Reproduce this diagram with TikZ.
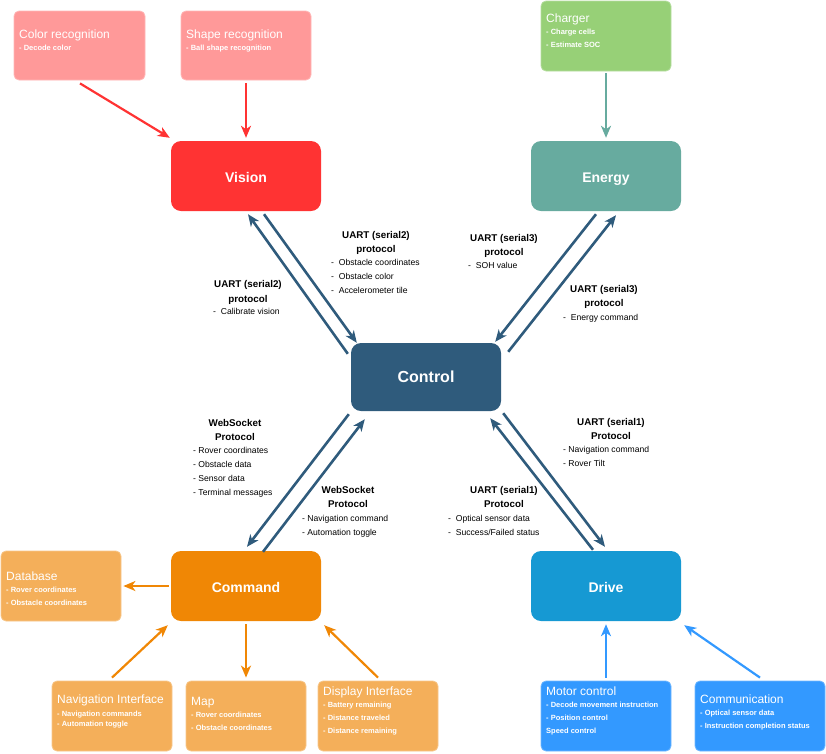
\documentclass[tikz,border=0pt]{standalone}
\usepackage{fontspec}
\setmainfont{Liberation Sans}
\usetikzlibrary{arrows.meta,calc}
\definecolor{lred}{HTML}{FF9999}
\definecolor{vred}{HTML}{FF3333}
\definecolor{lgreen}{HTML}{97D077}
\definecolor{teal}{HTML}{67AB9F}
\definecolor{ctrl}{HTML}{2F5B7C}
\definecolor{corange}{HTML}{F08705}
\definecolor{lorange}{HTML}{F4AF5A}
\definecolor{dblue}{HTML}{1699D3}
\definecolor{lblue}{HTML}{3399FF}
\begin{document}
\begin{tikzpicture}[x=1pt,y=-1pt,
  mainbox/.style={rectangle,rounded corners=10pt,minimum width=150pt,minimum height=70pt,inner sep=0pt,text=white,font=\fontsize{14}{16}\selectfont\bfseries},
  mtext/.style={anchor=mid,inner sep=0pt,yshift=-3pt,text=white,font=\fontsize{14}{16}\selectfont\bfseries},
  smallbox/.style={rectangle,rounded corners=5pt,minimum width=#1,minimum height=70pt,inner sep=0pt,line width=0.8pt},
  btitle/.style={anchor=mid west,inner sep=0pt,yshift=-3pt,text=white,font=\fontsize{12}{14}\selectfont},
  bitem/.style={anchor=mid west,inner sep=0pt,yshift=-1pt,text=white,font=\fontsize{7.5}{9}\selectfont\bfseries},
  lhead/.style={anchor=mid,inner sep=0pt,yshift=-2pt,font=\fontsize{9.8}{12}\selectfont\bfseries},
  litem/.style={anchor=mid west,inner sep=0pt,yshift=-1pt,font=\fontsize{8.6}{11}\selectfont},
  thin arrow/.style={line width=2.2pt,-{Stealth[length=12pt,width=10pt,inset=3.5pt]}},
  thick arrow/.style={line width=2.6pt,ctrl,-{Stealth[length=12pt,width=10pt,inset=3.5pt]}}
]
\useasboundingbox (0,0) rectangle (826,753);
% main boxes
\node[mainbox,fill=vred] (vision) at (246,176) {};
\node[mainbox,fill=teal] (energy) at (606,176) {};
\node[mainbox,fill=ctrl,minimum height=68pt] (control) at (426,377) {};
\node[mainbox,fill=corange] (command) at (246,586) {};
\node[mainbox,fill=dblue] (drive) at (606,586) {};
\node[mtext] (visiont) at (246,177) {Vision};
\node[mtext] (energyt) at (606,177) {Energy};
\node[mtext,font=\fontsize{16}{18}\selectfont\bfseries] (controlt) at (426,377) {Control};
\node[mtext] (commandt) at (246,587) {Command};
\node[mtext] (drivet) at (606,587) {Drive};
% small boxes
\node[smallbox=131pt,minimum height=69pt,fill=lred,draw=lred!70!white] (colorrec) at (79.5,45.5) {};
\node[smallbox=130pt,minimum height=69pt,fill=lred,draw=lred!70!white] (shaperec) at (246,45.5) {};
\node[smallbox=130pt,fill=lgreen,draw=lgreen!70!white] (charger) at (606,36) {};
\node[smallbox=120pt,fill=lorange,draw=lorange!70!white] (database) at (61,586) {};
\node[smallbox=120pt,fill=lorange,draw=lorange!70!white] (navint) at (112,716) {};
\node[smallbox=120pt,fill=lorange,draw=lorange!70!white] (map) at (246,716) {};
\node[smallbox=120pt,fill=lorange,draw=lorange!70!white] (dispint) at (378,716) {};
\node[smallbox=130pt,fill=lblue,draw=lblue!70!white] (motor) at (606,716) {};
\node[smallbox=130pt,fill=lblue,draw=lblue!70!white] (comm) at (760,716) {};
% small box texts
\node[btitle] (t1) at (19,33) {Color recognition};
\node[bitem] (t1a) at (19,47) {- Decode color};
\node[btitle] (t2) at (186,33) {Shape recognition};
\node[bitem] (t2a) at (186,47) {- Ball shape recognition};
\node[btitle] (t3) at (546,17) {Charger};
\node[bitem] (t3a) at (546,31) {- Charge cells};
\node[bitem] (t3b) at (546,44) {- Estimate SOC};
\node[btitle] (t4) at (6,575) {Database};
\node[bitem] (t4a) at (6,589) {- Rover coordinates};
\node[bitem] (t4b) at (6,602) {- Obstacle coordinates};
\node[btitle] (t5) at (57,698) {Navigation Interface};
\node[bitem] (t5a) at (57,713) {- Navigation commands};
\node[bitem] (t5b) at (57,723) {- Automation toggle};
\node[btitle] (t6) at (191,700) {Map};
\node[bitem] (t6a) at (191,714) {- Rover coordinates};
\node[bitem] (t6b) at (191,727) {- Obstacle coordinates};
\node[btitle] (t7) at (323,690) {Display Interface};
\node[bitem] (t7a) at (323,704) {- Battery remaining};
\node[bitem] (t7b) at (323,717) {- Distance traveled};
\node[bitem] (t7c) at (323,730) {- Distance remaining};
\node[btitle] (t8) at (546,690) {Motor control};
\node[bitem] (t8a) at (546,704) {- Decode movement instruction};
\node[bitem] (t8b) at (546,717) {- Position control};
\node[bitem] (t8c) at (546,730) {Speed control};
\node[btitle] (t9) at (700,698) {Communication};
\node[bitem] (t9a) at (700,712) {- Optical sensor data};
\node[bitem] (t9b) at (700,725) {- Instruction completion status};
% connector labels
\node[lhead] (a1) at (248,283) {UART (serial2)};
\node[lhead] (a2) at (248,298) {protocol};
\node[litem] (a3) at (213,311) {-\ \ Calibrate vision};
\node[lhead] (b1) at (376,234) {UART (serial2)};
\node[lhead] (b2) at (376,248) {protocol};
\node[litem] (b3) at (331,262) {-\ \ Obstacle coordinates};
\node[litem] (b4) at (331,276) {-\ \ Obstacle color};
\node[litem] (b5) at (331,290) {-\ \ Accelerometer tile};
\node[lhead] (c1) at (504,237) {UART (serial3)};
\node[lhead] (c2) at (504,251) {protocol};
\node[litem] (c3) at (468,265) {-\ \ SOH value};
\node[lhead] (d1) at (604,288) {UART (serial3)};
\node[lhead] (d2) at (604,302) {protocol};
\node[litem] (d3) at (563,317) {-\ \ Energy command};
\node[lhead] (e1) at (235,422) {WebSocket};
\node[lhead] (e2) at (235,436) {Protocol};
\node[litem] (e3) at (193,450) {- Rover coordinates};
\node[litem] (e4) at (193,464) {- Obstacle data};
\node[litem] (e5) at (193,478) {- Sensor data};
\node[litem] (e6) at (193,492) {- Terminal messages};
\node[lhead] (f1) at (348,489) {WebSocket};
\node[lhead] (f2) at (348,503) {Protocol};
\node[litem] (f3) at (302,518) {- Navigation command};
\node[litem] (f4) at (302,532) {- Automation toggle};
\node[lhead] (g1) at (611,421) {UART (serial1)};
\node[lhead] (g2) at (611,435) {Protocol};
\node[litem] (g3) at (563,449) {- Navigation command};
\node[litem] (g4) at (563,463) {- Rover Tilt};
\node[lhead] (h1) at (504,489) {UART (serial1)};
\node[lhead] (h2) at (504,503) {Protocol};
\node[litem] (h3) at (448,518) {-\ \ Optical sensor data};
\node[litem] (h4) at (448,532) {-\ \ Success/Failed status};
% thin arrows
\draw[thin arrow,vred] ($(colorrec.south)+(0.5,3)$) -- ($(vision.north west)+(-1,-3)$);
\draw[thin arrow,vred] ($(shaperec.south)+(0,3)$) -- ($(vision.north)+(0,-3)$);
\draw[thin arrow,teal] ($(charger.south)+(0,2)$) -- ($(energy.north)+(0,-3)$);
\draw[thin arrow,corange] ($(command.west)+(-2,0)$) -- ($(database.east)+(2,0)$);
\draw[thin arrow,corange] ($(navint.north)+(0,-3)$) -- ($(command.south west)+(-3,4)$);
\draw[thin arrow,corange] ($(command.south)+(0,3)$) -- ($(map.north)+(0,-3)$);
\draw[thin arrow,corange] ($(dispint.north)+(0,-3)$) -- ($(command.south east)+(3,4)$);
\draw[thin arrow,lblue] ($(motor.north)+(0,-3)$) -- ($(drive.south)+(0,3)$);
\draw[thin arrow,lblue] ($(comm.north)+(0,-3)$) -- ($(drive.south east)+(3,4)$);
% thick arrows
\draw[thick arrow] ($(control.north west)+(-3,11)$) -- ($(vision.south)+(2,3)$);
\draw[thick arrow] ($(vision.south)+(18,3)$) -- ($(control.north west)+(6,0)$);
\draw[thick arrow] ($(energy.south)+(-10,3)$) -- ($(control.north east)+(-6,-1)$);
\draw[thick arrow] ($(control.north east)+(7,9)$) -- ($(energy.south)+(10,4)$);
\draw[thick arrow] ($(control.south west)+(-2,3)$) -- ($(command.north)+(1,-4)$);
\draw[thick arrow] ($(command.north)+(17,1)$) -- ($(control.south west)+(14,8)$);
\draw[thick arrow] ($(drive.north)+(-13,-1)$) -- ($(control.south east)+(-11,7)$);
\draw[thick arrow] ($(control.south east)+(2,2)$) -- ($(drive.north)+(-1,-4)$);
\end{tikzpicture}
\end{document}
